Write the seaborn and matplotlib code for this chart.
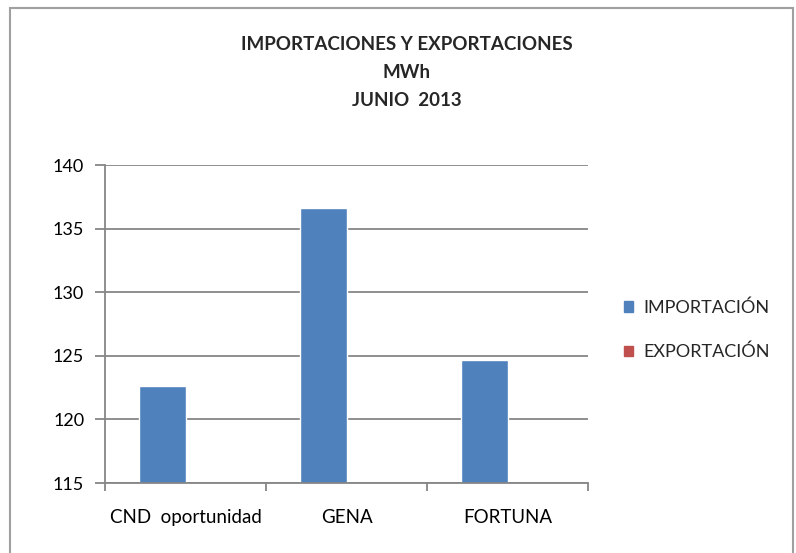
import matplotlib
matplotlib.use("Agg")
import matplotlib.pyplot as plt
import seaborn as sns
import pandas as pd
from matplotlib.patches import Rectangle, Patch

categories = ["CND  oportunidad", "GENA", "FORTUNA"]
importacion = [122.6, 136.6, 124.7]
exportacion = [0, 0, 0]
series = ["IMPORTACIÓN", "EXPORTACIÓN"]
colors = ["#4F81BD", "#C0504D"]
title_lines = ["IMPORTACIONES Y EXPORTACIONES", "MWh", "JUNIO  2013"]

df = pd.DataFrame({
    "cat": categories * 2,
    "serie": [series[0]] * 3 + [series[1]] * 3,
    "val": importacion + exportacion,
})

sns.set_theme(style="white")
plt.rcParams["font.family"] = ["Lato", "DejaVu Sans"]

W, H = 796, 553
fig = plt.figure(figsize=(W / 100, H / 100), dpi=100)
fig.patch.set_facecolor("white")
ax = fig.add_axes([105 / W, 1 - 483 / H, (588 - 105) / W, (483 - 165) / H])

sns.barplot(data=df, x="cat", y="val", hue="serie", palette=colors,
            width=0.58, ax=ax, legend=False, saturation=1)

ax.set_ylim(115, 140)
ax.set_xlim(-0.5, 2.5)
ax.set_yticks([115, 120, 125, 130, 135, 140])
ax.yaxis.grid(True, color="#868686", linewidth=1.3)
ax.set_axisbelow(True)
for s in ["top", "right"]:
    ax.spines[s].set_visible(False)
for s in ["left", "bottom"]:
    ax.spines[s].set_color("#868686")
    ax.spines[s].set_linewidth(1.3)
ax.set_xlabel("")
ax.set_ylabel("")
ax.tick_params(axis="y", direction="out", length=7, width=1.3, color="#868686",
               labelsize=13, pad=8, left=True, labelcolor="#000000")
ax.set_xticks([0, 1, 2])
ax.set_xticklabels(categories)
ax.set_xticks([-0.5, 0.5, 1.5, 2.5], minor=True)
ax.tick_params(axis="x", which="major", length=0, labelsize=13.5, pad=19,
               labelcolor="#000000")
ax.tick_params(axis="x", which="minor", direction="out", length=6, width=1.3,
               color="#868686", bottom=True)

for line, y in zip(title_lines, [45, 72, 100]):
    fig.text(407 / W, 1 - y / H, line, ha="center", va="center",
             fontsize=13.5, fontweight="bold")

handles = [Patch(facecolor=c, edgecolor=c) for c in colors]
fig.legend(handles, series, loc="center left",
           bbox_to_anchor=(624 / W, 1 - 330 / H), frameon=False,
           fontsize=13, handlelength=0.5, handleheight=0.5,
           labelspacing=1.55, handletextpad=0.55, borderpad=0,
           borderaxespad=0)

fig.add_artist(Rectangle((10 / W, -0.02), (793 - 10) / W, 1.02 - 8 / H,
                         transform=fig.transFigure, fill=False,
                         edgecolor="#a0a0a0", linewidth=1.5))

fig.savefig("out.png", dpi=100)
